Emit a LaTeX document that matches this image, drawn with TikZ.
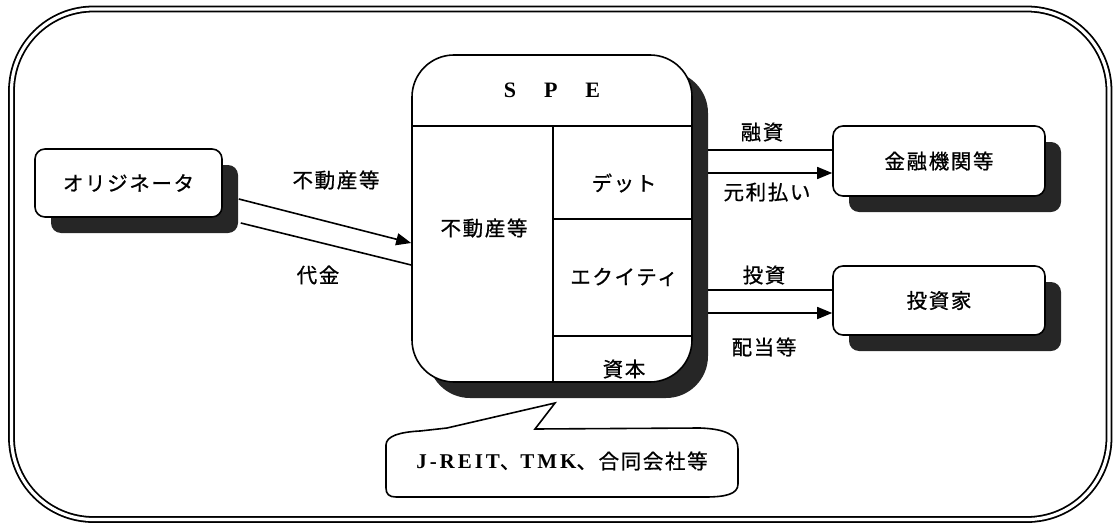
\documentclass[tikz,border=0pt]{standalone}
\usepackage{fontspec}
\newfontfamily\jp[LetterSpace=8,FakeBold=0.8]{Noto Sans CJK JP}
\newfontfamily\lat[LetterSpace=14]{Liberation Serif}
\newfontfamily\latn{Liberation Serif}
\usetikzlibrary{arrows.meta,shadows}
\begin{document}
\begin{tikzpicture}[x=1pt,y=-1pt,
  lw/.style={line width=1.6pt},
  jptext/.style={font=\jp\fontsize{20.5}{22}\selectfont, inner sep=0pt},
  shbox/.style={draw, lw, fill=white, inner sep=0pt, jptext,
    drop shadow={shadow xshift=16pt, shadow yshift=-16pt, fill=black!85, opacity=1}},
  smallbox/.style={shbox, rounded corners=10pt},
  spebox/.style={shbox, rounded corners=42pt},
  conn/.style={lw},
  arr/.style={lw, -{Triangle[length=15pt,width=12pt]}},
  lbl/.style={jptext},
  frameline/.style={line width=1.8pt, double, double distance=3.2pt, rounded corners=82pt}
]
\useasboundingbox (0,0) rectangle (1115,524);
\draw[frameline] (11.5,9) rectangle (1109,519.5);

% boxes
\node[smallbox, minimum width=187pt, minimum height=68pt] (orig) at (128.5,183) {オリジネータ};
\node[spebox, minimum width=280pt, minimum height=327pt] (spe) at (552,218.5) {};
\node[smallbox, minimum width=212pt, minimum height=70pt] (bank) at (939,161) {金融機関等};
\node[smallbox, minimum width=212pt, minimum height=69pt] (inv) at (939,300.5) {投資家};

% SPE interior
\coordinate (d1l) at (412,126); \coordinate (d1r) at (692,126);
\coordinate (vt) at (553,126); \coordinate (vb) at (553,382);
\coordinate (d2l) at (553,219); \coordinate (d2r) at (692,219);
\coordinate (d3l) at (553,336); \coordinate (d3r) at (692,336);
\draw[lw] (d1l) -- (d1r);
\draw[lw] (vt) -- (vb);
\draw[lw] (d2l) -- (d2r);
\draw[lw] (d3l) -- (d3r);
\node[font=\latn\bfseries\fontsize{22}{24}\selectfont, inner sep=0pt] (spet) at (552,90) {S\hspace{28pt}P\hspace{28pt}E};
\node[lbl] (re) at (484,228) {不動産等};
\node[lbl] (debt) at (624,183) {デット};
\node[lbl] (eq) at (624,277) {エクイティ};
\node[lbl] (cap) at (624,369) {資本};

% left connectors
\draw[arr] ([xshift=16pt,yshift=-16pt]orig.east) -- ([yshift=-24.5pt]spe.west);
\draw[conn] ([xshift=18pt,yshift=-40pt]orig.east) -- ([yshift=-46.5pt]spe.west);
\node[lbl] (l1) at (336,180) {不動産等};
\node[lbl] (l2) at (318,275) {代金};

% right connectors
\coordinate (s1) at (708,150);
\coordinate (s2) at (708,173);
\coordinate (s3) at (708,290);
\coordinate (s4) at (708,313);
\draw[conn] (s1) -- ([yshift=11pt]bank.west);
\draw[arr] (s2) -- ([yshift=-12pt]bank.west);
\draw[conn] (s3) -- ([yshift=10.5pt]inv.west);
\draw[arr] (s4) -- ([yshift=-12.5pt]inv.west);
\node[lbl] (l3) at (762,132) {融資};
\node[lbl] (l4) at (767,192) {元利払い};
\node[lbl] (l5) at (764,275) {投資};
\node[lbl] (l6) at (764,347) {配当等};

% callout
\draw[lw, fill=white] (535,429) -- (700,428)
  .. controls (726,429) and (738,435) .. (738,449)
  -- (738,484)
  .. controls (738,494) and (726,497) .. (705,497)
  -- (396,497)
  .. controls (389,497) and (386,494) .. (386,488)
  -- (386,445)
  .. controls (386,436) and (400,432) .. (420,431)
  -- (447,428) -- (555,403) -- cycle;
\node[inner sep=0pt] (callout) at (562,461)
  {{\lat\bfseries\fontsize{21}{22}\selectfont J-REIT}{\jp\fontsize{20.5}{22}\selectfont 、}{\lat\bfseries\fontsize{21}{22}\selectfont TMK}{\jp\fontsize{20.5}{22}\selectfont 、合同会社等}};
\end{tikzpicture}
\end{document}
